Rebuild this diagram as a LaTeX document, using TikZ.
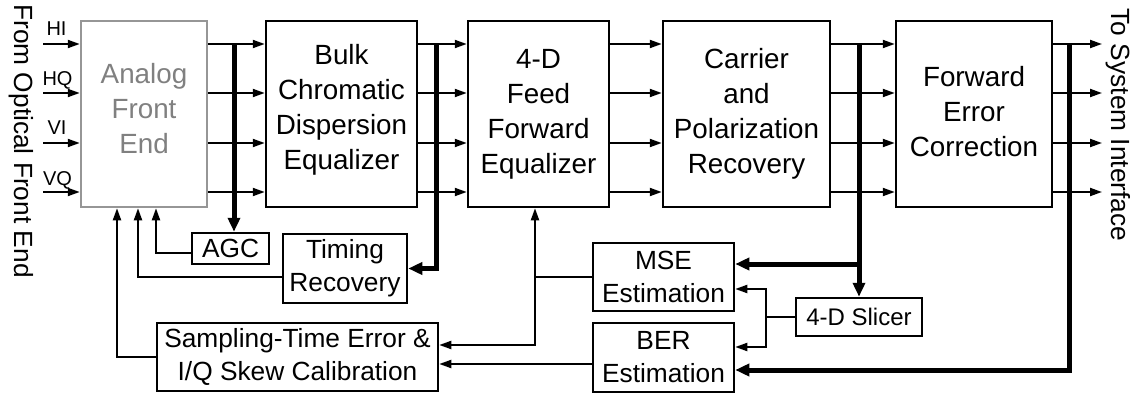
\documentclass[tikz,border=0pt]{standalone}
\usepackage{fontspec}
\setmainfont{Liberation Sans}
\usetikzlibrary{arrows.meta}
\definecolor{afegray}{RGB}{128,128,128}
\definecolor{afeborder}{RGB}{150,150,150}
\tikzset{
  box/.style={draw=black, line width=2.5pt, align=center, inner sep=0pt,
    font=\fontsize{26.3}{33}\selectfont},
  bigbox/.style={box, font=\fontsize{27.8}{35}\selectfont},
  bigtext/.style={align=center, inner sep=0pt, font=\fontsize{27.8}{35}\selectfont},
  smallbox/.style={box, font=\fontsize{24}{30}\selectfont},
  lbl/.style={font=\fontsize{20}{24}\selectfont, anchor=base, inner sep=0pt},
  side/.style={font=\fontsize{26.3}{30}\selectfont, rotate=-90, inner sep=0pt},
  arr/.style={line width=2pt, -{Triangle[length=12pt,width=8pt]}},
  ln/.style={line width=2pt},
  tarr/.style={line width=5pt, line join=miter, -{Triangle[length=14pt,width=12pt]}},
}
\begin{document}
\begin{tikzpicture}[x=1pt,y=-1pt]
\useasboundingbox (0,0) rectangle (1136,396);
% main boxes
\node[bigbox, draw=afeborder, minimum width=126pt, minimum height=186pt] (afe) at (144,114) {};
\node[bigtext, text=afegray] (afet) at ([yshift=5pt]afe.center) {Analog\\Front\\End};
\node[bigbox, minimum width=151pt, minimum height=186pt] (cd) at (341.5,114) {};
\node[bigtext] (cdt) at ([yshift=4pt]cd.center) {Bulk\\Chromatic\\Dispersion\\Equalizer};
\node[bigbox, minimum width=141pt, minimum height=186pt] (ffe) at (538.5,114) {4-D\\Feed\\Forward\\Equalizer};
\node[bigbox, minimum width=167pt, minimum height=186pt] (cpr) at (746.5,114) {Carrier\\and\\Polarization\\Recovery};
\node[bigbox, minimum width=156pt, minimum height=186pt] (fec) at (974,114) {};
\node[bigtext] (fect) at ([yshift=2.5pt]fec.center) {Forward\\Error\\Correction};
% lower boxes
\node[box, minimum width=77pt, minimum height=31pt] (agc) at (230.5,248.5) {AGC};
\node[box, minimum width=124pt, minimum height=69pt] (tr) at (345,268.5) {Timing\\Recovery};
\node[box, minimum width=281pt, minimum height=68pt] (ste) at (297.5,357) {Sampling-Time Error \&\\I/Q Skew Calibration};
\node[box, minimum width=141pt, minimum height=68pt] (mse) at (663.5,277) {MSE\\Estimation};
\node[box, minimum width=141pt, minimum height=69pt] (ber) at (663.5,357.5) {BER\\Estimation};
\node[smallbox, minimum width=126pt, minimum height=38pt] (slc) at (859,317) {4-D Slicer};
% side labels
\node[side] (src) at (21,141) {From Optical Front End};
\node[side] (dst) at (1118,125) {To System Interface};
% input labels
\node[lbl] (lhi) at (56.5,35.7) {HI};
\node[lbl] (lhq) at (57.5,86) {HQ};
\node[lbl] (lvi) at (57,135) {VI};
\node[lbl] (lvq) at (57.5,185) {VQ};
% row levels
\coordinate (r1) at (0,44);
\coordinate (r2) at (0,93);
\coordinate (r3) at (0,143);
\coordinate (r4) at (0,192);
\coordinate (inx) at (43,0);
\coordinate (outx) at (1102,0);
% inputs and inter-box arrows
\foreach \r in {r1,r2,r3,r4}{
  \draw[arr] (inx |- \r) -- (afe.west |- \r);
  \draw[arr] (afe.east |- \r) -- (cd.west |- \r);
  \draw[arr] (cd.east |- \r) -- (ffe.west |- \r);
  \draw[arr] (ffe.east |- \r) -- (cpr.west |- \r);
  \draw[arr] (cpr.east |- \r) -- (fec.west |- \r);
  \draw[arr] (fec.east |- \r) -- (outx |- \r);
}
% buses
\coordinate (b1) at (234,44);
\coordinate (b2) at (436,44);
\coordinate (b2c) at (436,268.5);
\coordinate (b3) at (859,44);
\coordinate (b3j) at (859,264);
\coordinate (b4) at (1069,44);
\coordinate (b4c) at (1069,370);
\draw[tarr] (b1) -- (b1 |- agc.north);
\draw[tarr] (b2) -- (b2c) -- (tr.east |- b2c);
\draw[tarr] (b3) -- (b3 |- slc.north);
\draw[tarr] (b3j) -- (mse.east |- b3j);
\draw[tarr] (b4) -- (b4c) -- (ber.east |- b4c);
% feedback into AFE
\coordinate (fa) at (117,0);
\coordinate (fb) at (138,0);
\coordinate (fc) at (156,0);
\coordinate (agcl) at (0,253);
\coordinate (trl) at (0,277);
\draw[arr] (agc.west |- agcl) -| (fc |- afe.south);
\draw[arr] (tr.west |- trl) -| (fb |- afe.south);
\draw[arr] (ste.west) -| (fa |- afe.south);
% MSE feedback to FFE and STE
\coordinate (mj) at (535,277);
\coordinate (mjb) at (535,345);
\draw[ln] (mse.west |- mj) -- (mj);
\draw[arr] (mj) -- (mj |- ffe.south);
\draw[arr] (mj) -- (mjb) -- (ste.east |- mjb);
\coordinate (bl) at (0,364);
\draw[arr] (ber.west |- bl) -- (ste.east |- bl);
% slicer
\coordinate (sj) at (766,317);
\coordinate (sju) at (766,289);
\coordinate (sjd) at (766,347);
\draw[ln] (slc.west) -- (sj);
\draw[arr] (sj) -- (sju) -- (mse.east |- sju);
\draw[arr] (sj) -- (sjd) -- (ber.east |- sjd);
\end{tikzpicture}
\end{document}
